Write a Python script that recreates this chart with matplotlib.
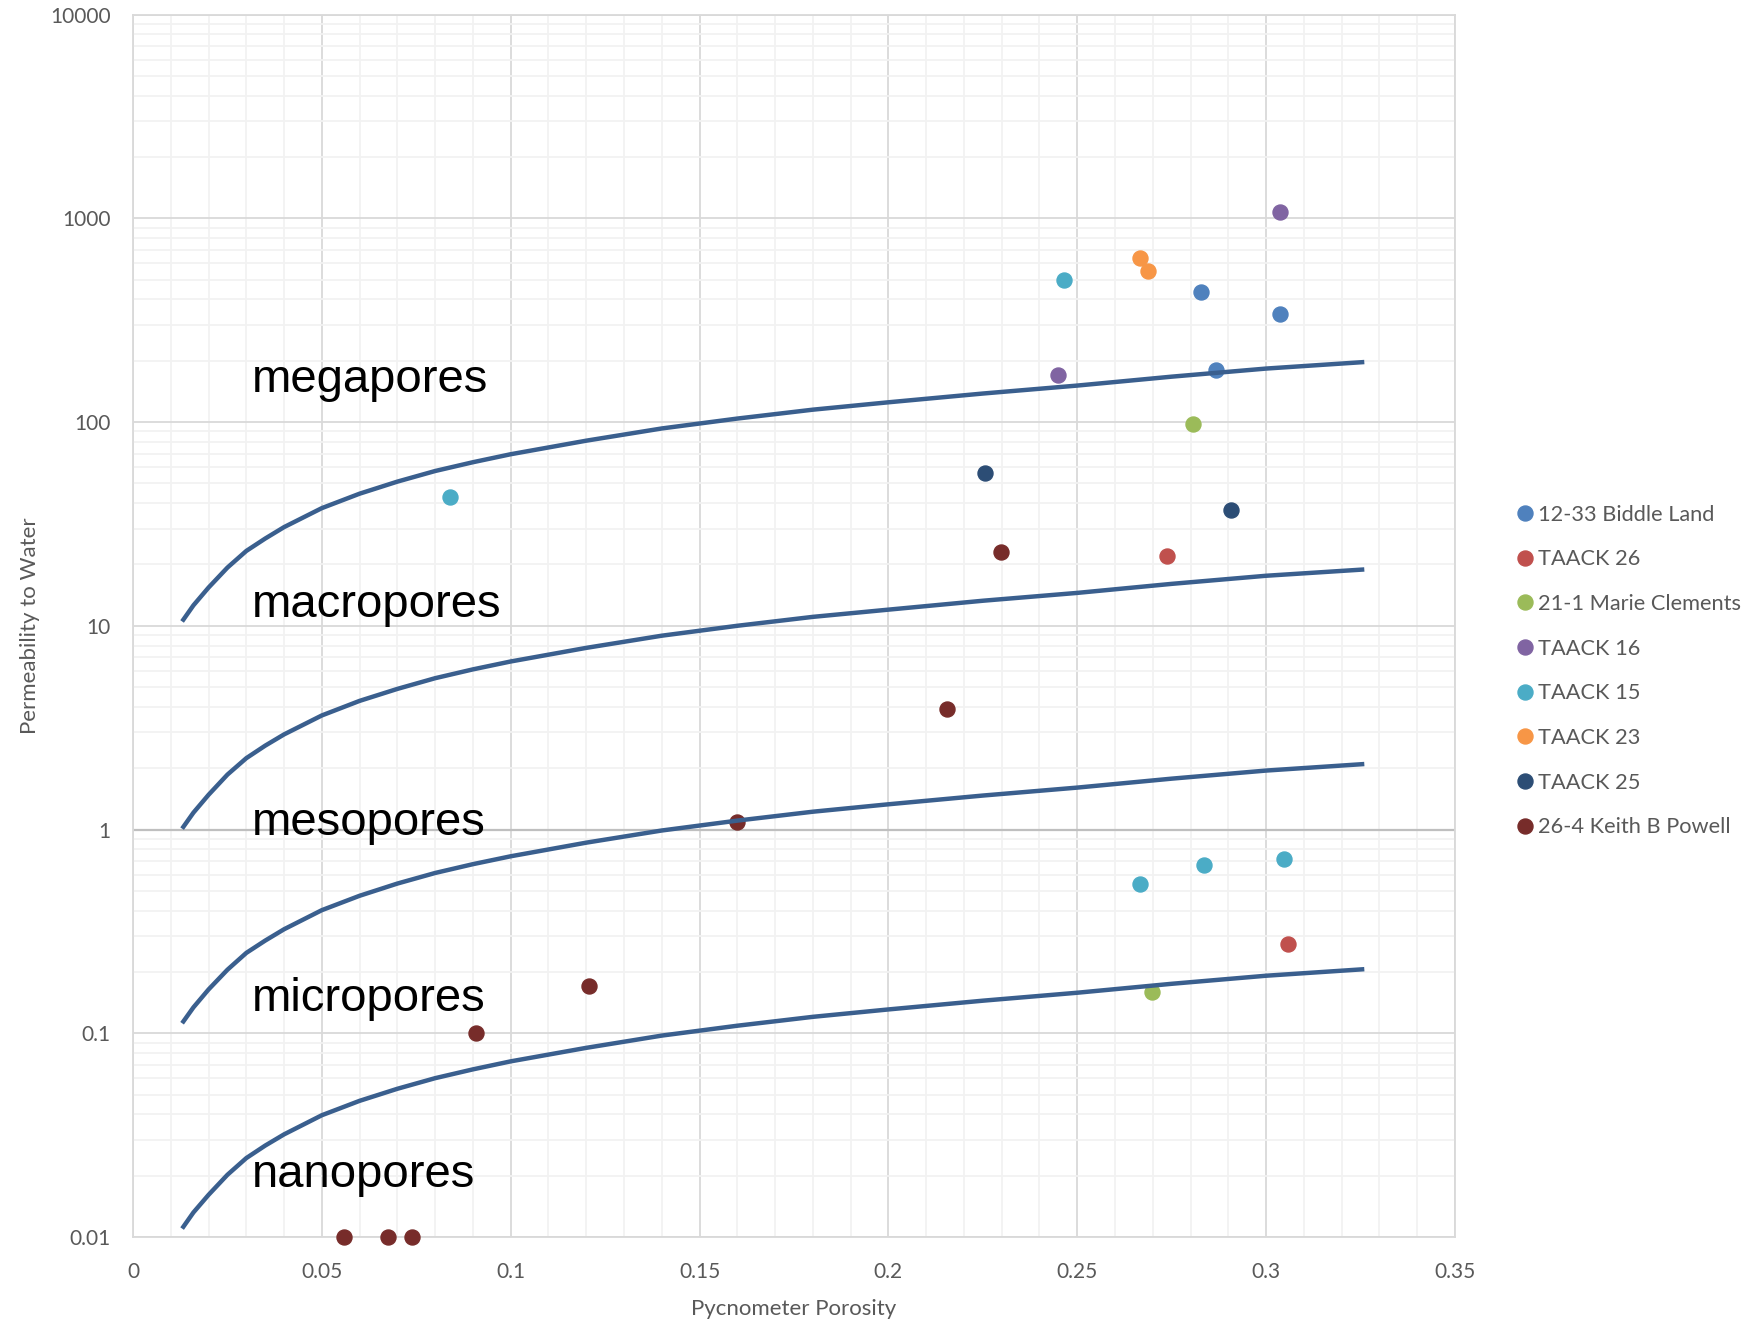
import matplotlib.pyplot as plt
import numpy as np
from matplotlib.ticker import FixedLocator, FixedFormatter, NullFormatter

# region data
series_names = ["12-33 Biddle Land", "TAACK 26", "21-1 Marie Clements", "TAACK 16",
                "TAACK 15", "TAACK 23", "TAACK 25", "26-4 Keith B Powell"]
series_colors = ["#4F81BD", "#C0504D", "#9BBB59", "#8064A2",
                 "#4BACC6", "#F79646", "#2C4D75", "#772C2A"]

biddle_x = [0.2827, 0.3036, 0.2868]
biddle_y = [433, 340, 181]
taack26_x = [0.2738, 0.3057]
taack26_y = [22, 0.273]
marie_x = [0.2806, 0.2697]
marie_y = [97.5, 0.16]
taack16_x = [0.3036, 0.2449]
taack16_y = [1072, 170]
taack15_x = [0.2466, 0.0839, 0.2667, 0.2835, 0.3048]
taack15_y = [497, 43, 0.54, 0.668, 0.72]
taack23_x = [0.2667, 0.2688]
taack23_y = [639, 549]
taack25_x = [0.2257, 0.2906]
taack25_y = [56, 36.9]
powell_x = [0.2298, 0.2156, 0.1598, 0.1208, 0.0907, 0.0558, 0.0676, 0.0738]
powell_y = [23.1, 3.9, 1.09, 0.171, 0.1, 0.01, 0.01, 0.01]

series_x = [biddle_x, taack26_x, marie_x, taack16_x, taack15_x, taack23_x, taack25_x, powell_x]
series_y = [biddle_y, taack26_y, marie_y, taack16_y, taack15_y, taack23_y, taack25_y, powell_y]

# boundary curves
curve_x = [0.013, 0.016, 0.02, 0.025, 0.03, 0.035, 0.04, 0.05, 0.06, 0.07, 0.08, 0.09,
           0.1, 0.12, 0.14, 0.16, 0.18, 0.2, 0.225, 0.25, 0.275, 0.3, 0.326]
curve_mega = [10.5, 12.6, 15.4, 19.3, 23.3, 26.8, 30.5, 37.8, 44.5, 51, 57.5, 63.5,
              69.5, 81, 93, 104, 115, 125, 138, 151, 167, 183, 197]
curve_macro = [1.01, 1.21, 1.48, 1.86, 2.24, 2.58, 2.93, 3.63, 4.28, 4.9, 5.53, 6.11,
               6.68, 7.79, 8.94, 10.0, 11.06, 12.0, 13.27, 14.5, 16.06, 17.6, 18.9]
curve_meso = [0.112, 0.134, 0.164, 0.205, 0.248, 0.285, 0.324, 0.402, 0.473, 0.543, 0.612, 0.676,
              0.739, 0.862, 0.989, 1.106, 1.223, 1.33, 1.468, 1.606, 1.777, 1.947, 2.096]
curve_micro = [0.011, 0.0132, 0.0161, 0.0202, 0.0244, 0.0281, 0.0319, 0.0396, 0.0466, 0.0534,
               0.0602, 0.0665, 0.0728, 0.0848, 0.0974, 0.1089, 0.1204, 0.1309, 0.1445, 0.1581,
               0.1749, 0.1916, 0.2063]

zone_names = ["megapores", "macropores", "mesopores", "micropores", "nanopores"]
zone_y = [140, 11.1, 0.94, 0.129, 0.0176]

x_ticks = [0, 0.05, 0.1, 0.15, 0.2, 0.25, 0.3, 0.35]
x_labels = ["0", "0.05", "0.1", "0.15", "0.2", "0.25", "0.3", "0.35"]
y_ticks = [0.01, 0.1, 1, 10, 100, 1000, 10000]
y_labels = ["0.01", "0.1", "1", "10", "100", "1000", "10000"]
# endregion

plt.rcParams['font.family'] = ['Lato', 'DejaVu Sans']

fig = plt.figure(figsize=(17.5, 13.23), dpi=100)
ax = fig.add_axes([0.076, 0.065, 0.7554, 0.924])

ax.set_yscale("log")
ax.set_xlim(0, 0.35)
ax.set_ylim(0.01, 10000)

# grid
ax.xaxis.set_major_locator(FixedLocator(x_ticks))
ax.xaxis.set_major_formatter(FixedFormatter(x_labels))
ax.xaxis.set_minor_locator(FixedLocator(np.arange(0, 0.351, 0.01)))
ax.yaxis.set_major_locator(FixedLocator(y_ticks))
ax.yaxis.set_major_formatter(FixedFormatter(y_labels))
minor_y = [m * 10.0 ** e for e in range(-2, 4) for m in range(2, 10)]
ax.yaxis.set_minor_locator(FixedLocator(minor_y))
ax.yaxis.set_minor_formatter(NullFormatter())

ax.grid(which="minor", color="#F2F2F2", linewidth=1.3, zorder=0)
ax.grid(which="major", color="#D9D9D9", linewidth=1.3, zorder=0)
ax.axhline(1, color="#BFBFBF", linewidth=1.6, zorder=1)
ax.set_axisbelow(True)
for sp in ax.spines.values():
    sp.set_color("#D9D9D9")
    sp.set_linewidth(1.3)

ax.tick_params(which="both", length=0)
ax.tick_params(axis="y", labelsize=15, labelcolor="#595959", pad=16)
ax.tick_params(axis="x", labelsize=15, labelcolor="#595959", pad=18)

ax.set_xlabel("Pycnometer Porosity", fontsize=16, color="#595959", labelpad=12)
ax.set_ylabel("Permeability to Water", fontsize=16, color="#595959", labelpad=7)

# points
for i in range(len(series_names)):
    ax.plot(series_x[i], series_y[i], "o", ms=10.8, color=series_colors[i],
            label=series_names[i], zorder=3, clip_on=False, linestyle="none")

# boundary curves
for c in [curve_mega, curve_macro, curve_meso, curve_micro]:
    ax.plot(curve_x, c, color="#3A5F8E", linewidth=3.2, zorder=4,
            solid_capstyle="butt", solid_joinstyle="round")

for name, yv in zip(zone_names, zone_y):
    ax.text(0.0316, yv, name, fontsize=34, family="Liberation Sans",
            color="black", va="baseline", ha="left", zorder=5)

leg = ax.legend(loc="center left", bbox_to_anchor=(1.03, 0.463), frameon=False,
                fontsize=15.7, labelspacing=1.13, handletextpad=0.1,
                handlelength=1.0, markerscale=1.0)
for t in leg.get_texts():
    t.set_color("#595959")

fig.savefig("out.png", dpi=100)
